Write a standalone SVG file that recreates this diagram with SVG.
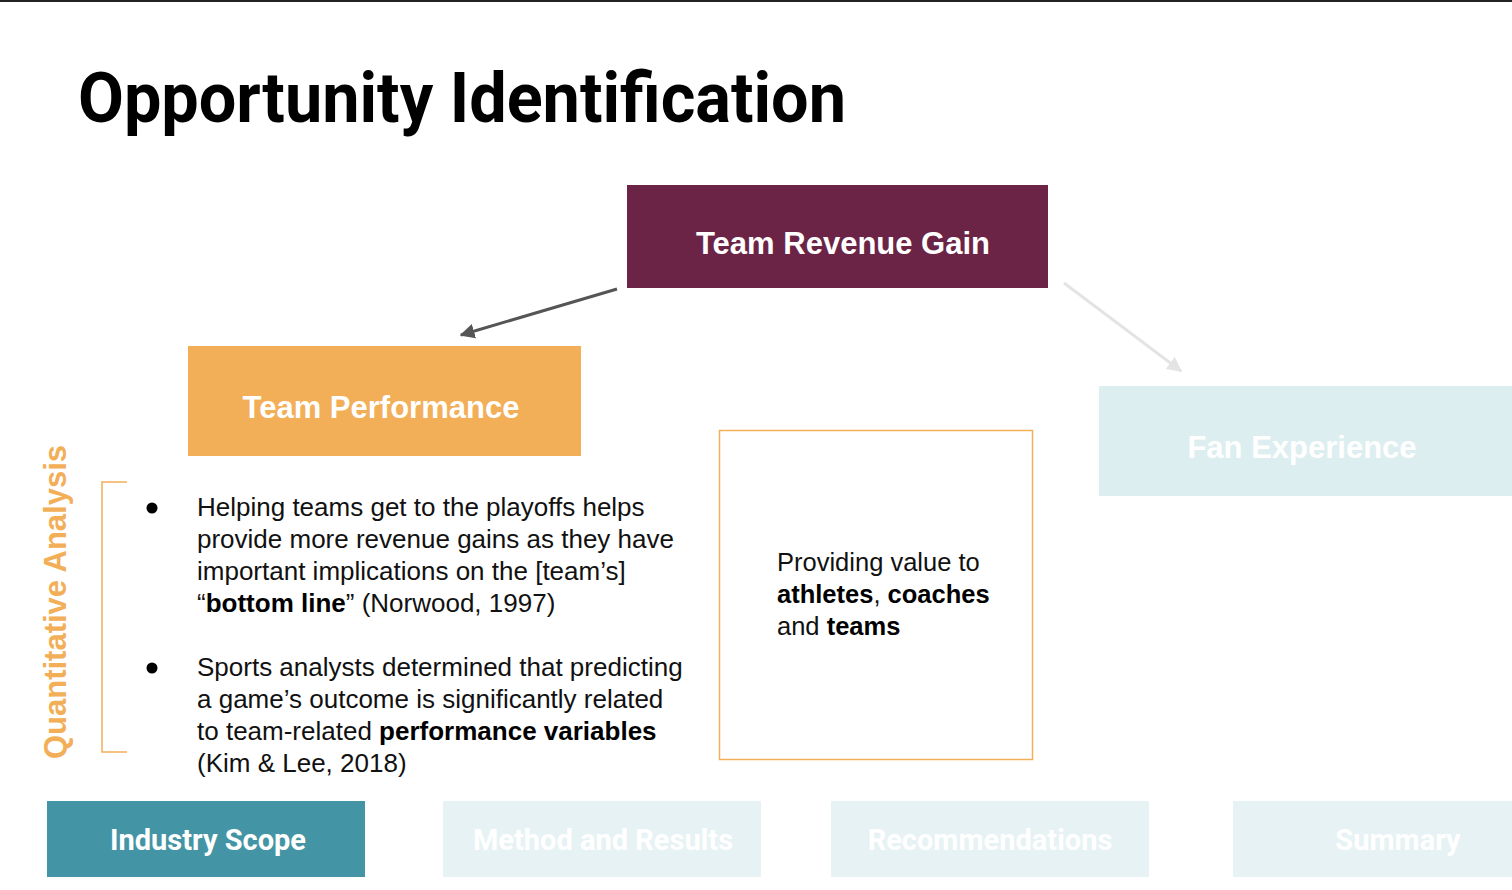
<svg xmlns="http://www.w3.org/2000/svg" width="1512" height="890" viewBox="0 0 1512 890">
<defs>
<style>
.title{font-family:Roboto,"Liberation Sans",sans-serif;font-weight:700;font-size:70px;fill:#000}
.hdr{font-family:"Liberation Sans",Arial,sans-serif;font-weight:700;font-size:31px;fill:#fff;text-anchor:middle}
.nav{font-family:Roboto,"Liberation Sans",sans-serif;font-weight:700;font-size:29px;fill:#fff;text-anchor:middle}
.body{font-family:"Liberation Sans",Arial,sans-serif;font-size:26px;fill:#111}
.box{font-family:"Liberation Sans",Arial,sans-serif;font-size:25.5px;fill:#111}
.b{font-weight:700;fill:#000}
</style>
<marker id="ahDark" viewBox="0 0 10 10" refX="9" refY="5" markerWidth="5" markerHeight="5" orient="auto" markerUnits="strokeWidth">
<path d="M0,0 L10,5 L0,10 z" fill="#555"/>
</marker>
<marker id="ahLight" viewBox="0 0 10 10" refX="9" refY="5" markerWidth="5" markerHeight="5" orient="auto" markerUnits="strokeWidth">
<path d="M0,0 L10,5 L0,10 z" fill="#e4e4e4"/>
</marker>
</defs>
<rect x="0" y="0" width="1512" height="890" fill="#fff"/>
<rect x="0" y="0" width="1512" height="2" fill="#222"/>
<text class="title" x="78" y="122" textLength="768" lengthAdjust="spacingAndGlyphs">Opportunity Identification</text>

<g id="connectors">
<line x1="617" y1="289" x2="461" y2="335" stroke="#555" stroke-width="3" marker-end="url(#ahDark)"/>
<line x1="1064" y1="283" x2="1181" y2="371" stroke="#e4e4e4" stroke-width="3" marker-end="url(#ahLight)"/>
</g>

<g id="team-revenue-gain">
<rect x="627" y="185" width="421" height="103" fill="#6b2346"/>
<text class="hdr" x="843" y="254">Team Revenue Gain</text>
</g>

<g id="team-performance">
<rect x="188" y="346" width="393" height="110" fill="#f3ae58"/>
<text class="hdr" x="381" y="418">Team Performance</text>
</g>

<g id="fan-experience">
<rect x="1099" y="386" width="413" height="110" fill="#ddeef0"/>
<text class="hdr" x="1302" y="458">Fan Experience</text>
</g>

<g id="quantitative-analysis">
<text transform="translate(66,602) rotate(-90)" font-family="Liberation Sans,Arial,sans-serif" font-weight="700" font-size="31" fill="#f3ae58" text-anchor="middle">Quantitative Analysis</text>
<path d="M127,482 H102 V752 H127" fill="none" stroke="#f3ae58" stroke-width="1.5"/>
</g>

<g id="bullets">
<circle cx="152" cy="508" r="5.5" fill="#000"/>
<text class="body" x="197" y="516">Helping teams get to the playoffs helps</text>
<text class="body" x="197" y="548">provide more revenue gains as they have</text>
<text class="body" x="197" y="580">important implications on the [team’s]</text>
<text class="body" x="197" y="612">“<tspan class="b">bottom line</tspan>” (Norwood, 1997)</text>
<circle cx="152" cy="668" r="5.5" fill="#000"/>
<text class="body" x="197" y="676">Sports analysts determined that predicting</text>
<text class="body" x="197" y="708">a game’s outcome is significantly related</text>
<text class="body" x="197" y="740">to team-related <tspan class="b">performance variables</tspan></text>
<text class="body" x="197" y="772">(Kim &amp; Lee, 2018)</text>
</g>

<g id="value-box">
<rect x="719.5" y="430.5" width="313" height="329" fill="#fff" stroke="#f3ae58" stroke-width="1.5"/>
<text class="box" x="777" y="571">Providing value to</text>
<text class="box" x="777" y="603"><tspan class="b">athletes</tspan>, <tspan class="b">coaches</tspan></text>
<text class="box" x="777" y="635">and <tspan class="b">teams</tspan></text>
</g>

<g id="nav-industry-scope">
<rect x="47" y="801" width="318" height="76" fill="#4395a5"/>
<text class="nav" x="208" y="850">Industry Scope</text>
</g>
<g id="nav-method-results">
<rect x="443" y="801" width="318" height="76" fill="#e7f2f4"/>
<text class="nav" x="603" y="850">Method and Results</text>
</g>
<g id="nav-recommendations">
<rect x="831" y="801" width="318" height="76" fill="#e7f2f4"/>
<text class="nav" x="990" y="850">Recommendations</text>
</g>
<g id="nav-summary">
<rect x="1233" y="801" width="300" height="76" fill="#e7f2f4"/>
<text class="nav" x="1398" y="850">Summary</text>
</g>
</svg>
